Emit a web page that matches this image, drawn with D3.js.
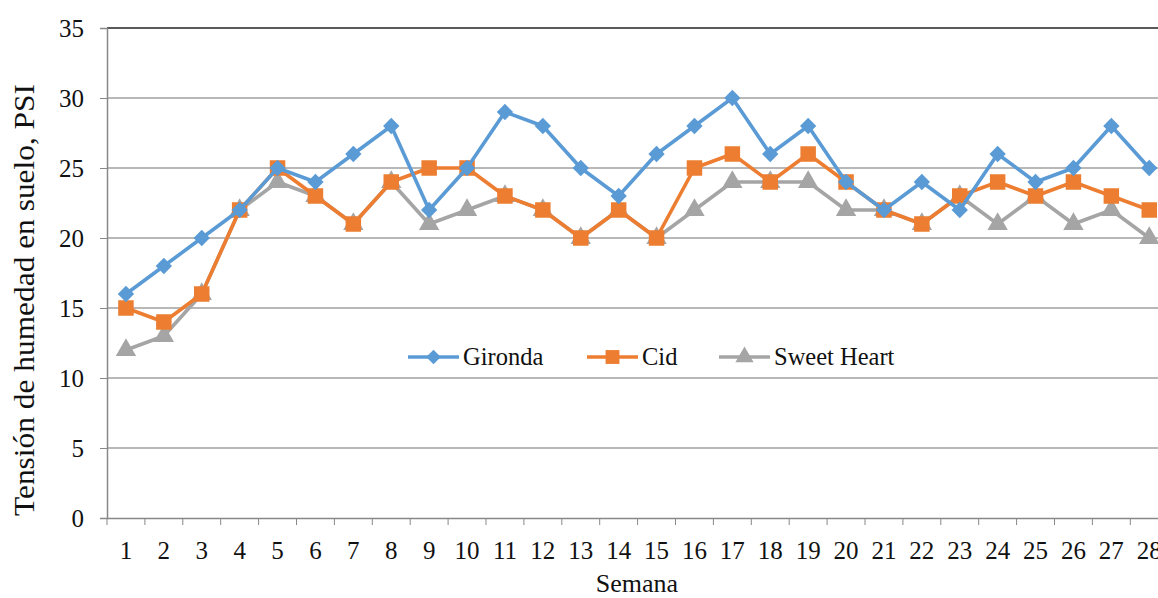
<!DOCTYPE html>
<html>
<head>
<meta charset="utf-8">
<script src="https://cdn.jsdelivr.net/npm/d3@7"></script>
<style>
  body { margin: 0; background: #fff; overflow: hidden; }
  svg { display: block; font-family: "Liberation Serif", "Times New Roman", serif; }
</style>
</head>
<body>
<svg id="chart" width="1158" height="598"></svg>
<script>
// Weeks on the x axis
var weeks = d3.range(1, 29).map(String);
// Soil moisture tension per week, PSI
var gironda = [16,18,20,22,25,24,26,28,22,25,29,28,25,23,26,28,30,26,28,24,22,24,22,26,24,25,28,25];
var cid = [15,14,16,22,25,23,21,24,25,25,23,22,20,22,20,25,26,24,26,24,22,21,23,24,23,24,23,22];
var sweetHeart = [12,13,16,22,24,23,21,24,21,22,23,22,20,22,20,22,24,24,24,22,22,21,23,21,23,21,22,20];
var yTicks = [0,5,10,15,20,25,30,35];

var series = [
	{name: "Gironda", values: gironda, color: "#5B9BD5", shape: d3.symbolDiamond2, size: 170},
	{name: "Cid", values: cid, color: "#ED7D31", shape: d3.symbolSquare, size: 240},
	{name: "Sweet Heart", values: sweetHeart, color: "#A5A5A5", shape: d3.symbolTriangle, size: 180}
];

function draw() {
	let svg = d3.select("#chart");
	const left = 107, top = 28, bottom = 518;
	const bandW = 37.9;
	const font = "Liberation Serif";

	let x = d3.scaleBand()
		.domain(weeks)
		.range([left, left + bandW * weeks.length]);
	let y = d3.scaleLinear()
		.domain([0, 35])
		.range([bottom, top]);

	// Gridlines
	svg.append("g")
		.selectAll("line")
		.data(yTicks.filter(d => d > 0 && d < 35))
		.enter().append("line")
		.attr("x1", left).attr("x2", x.range()[1])
		.attr("y1", d => y(d)).attr("y2", d => y(d))
		.attr("stroke", "#a0a0a0").attr("stroke-width", 1.3);

	// Top border
	svg.append("line")
		.attr("x1", left).attr("x2", x.range()[1])
		.attr("y1", y(35)).attr("y2", y(35))
		.attr("stroke", "#222").attr("stroke-width", 1.5);

	// Y axis
	let yAxis = svg.append("g")
		.attr("transform", `translate(${left},0)`)
		.call(d3.axisLeft(y).tickValues(yTicks).tickSize(7).tickPadding(16));
	yAxis.select(".domain").attr("stroke", "#888").attr("stroke-width", 1.5);
	yAxis.selectAll(".tick line").attr("stroke", "#888");
	yAxis.selectAll("text").attr("font-size", 25).attr("fill", "#111")
		.attr("font-family", font);

	// X axis, ticks at band boundaries
	let xAxis = svg.append("g")
		.attr("transform", `translate(0,${bottom})`)
		.call(d3.axisBottom(x).tickSize(0).tickPadding(23));
	xAxis.select(".domain").attr("stroke", "#888").attr("stroke-width", 1.5);
	xAxis.selectAll("text").attr("font-size", 25).attr("fill", "#111")
		.attr("font-family", font);
	xAxis.selectAll(".bound")
		.data(d3.range(weeks.length + 1))
		.enter().append("line")
		.attr("x1", i => left + i * x.step()).attr("x2", i => left + i * x.step())
		.attr("y1", 0).attr("y2", 7)
		.attr("stroke", "#888");

	// Axis titles
	svg.append("text")
		.attr("x", 637).attr("y", 592)
		.attr("text-anchor", "middle")
		.attr("font-size", 26).attr("fill", "#111")
		.text("Semana");
	svg.append("text")
		.attr("transform", "translate(34,516) rotate(-90)")
		.attr("text-anchor", "start")
		.attr("font-size", 30).attr("fill", "#111")
		.attr("textLength", 432).attr("lengthAdjust", "spacingAndGlyphs")
		.text("Tensión de humedad en suelo, PSI");

	let cx = (d, i) => x(weeks[i]) + x.bandwidth() / 2;
	let line = d3.line().x(cx).y(d => y(d));

	// Lines and markers
	series.slice().reverse().forEach(s => {
		let g = svg.append("g");
		g.append("path")
			.attr("d", line(s.values))
			.attr("fill", "none")
			.attr("stroke", s.color)
			.attr("stroke-width", 3.6)
			.attr("stroke-linejoin", "round");
		g.selectAll("path.mark")
			.data(s.values)
			.enter().append("path")
			.classed("mark", true)
			.attr("d", d3.symbol().type(s.shape).size(s.size))
			.attr("transform", (d, i) => `translate(${cx(d, i)},${y(d)})`)
			.attr("fill", s.color);
	});

	// Legend
	const legendX = [408, 587, 719];
	let lg = svg.append("g")
		.selectAll("g")
		.data(series)
		.enter().append("g")
		.attr("transform", (d, i) => `translate(${legendX[i]},357)`);
	lg.append("line")
		.attr("x1", 0).attr("x2", 51)
		.attr("stroke", d => d.color).attr("stroke-width", 3.6);
	lg.append("path")
		.attr("d", d => d3.symbol().type(d.shape).size(d.size * 0.8)())
		.attr("transform", "translate(25.5,0)")
		.attr("fill", d => d.color);
	lg.append("text")
		.attr("x", 55).attr("y", 8)
		.attr("font-size", 24.5).attr("fill", "#111")
		.text(d => d.name);
}

draw();
</script>
</body>
</html>
